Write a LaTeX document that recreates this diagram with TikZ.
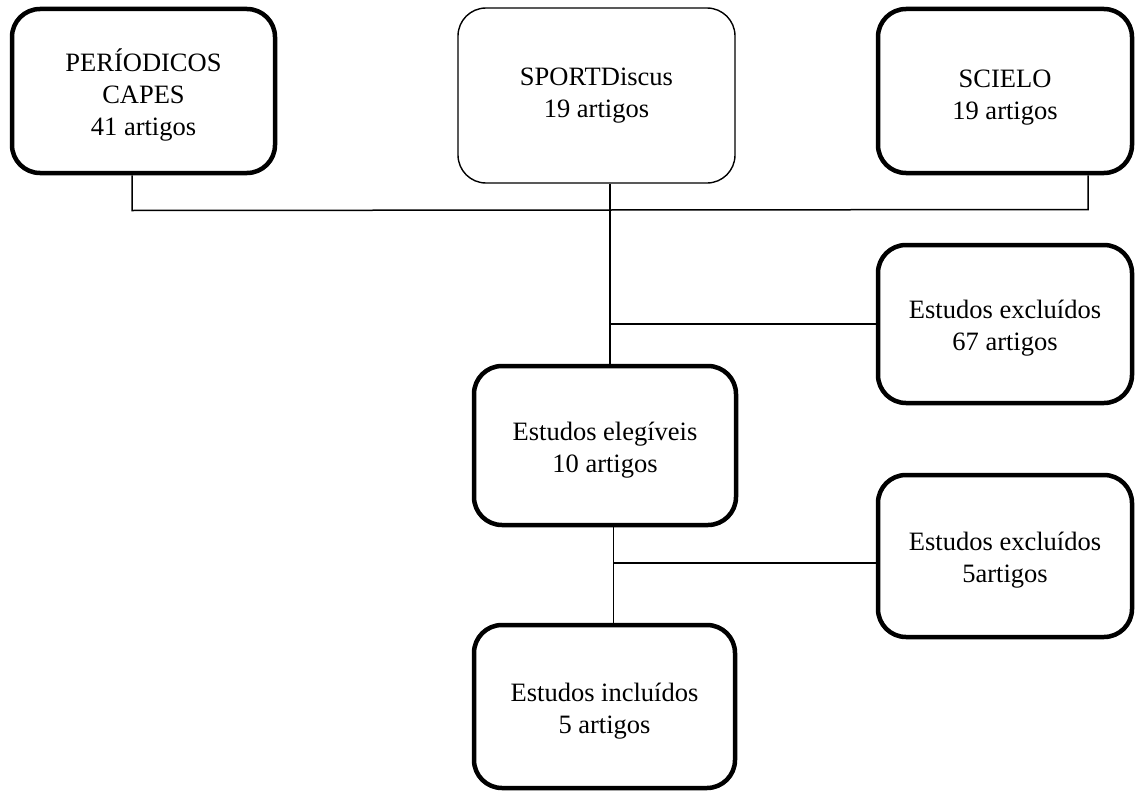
\documentclass[tikz,border=0pt]{standalone}
\usepackage{fontspec}
\setmainfont{Liberation Serif}
\begin{document}
\begin{tikzpicture}[x=1pt,y=-1pt,
  box/.style={draw=black, rounded corners=28pt, line width=4.5pt, align=center,
    inner sep=0pt, font=\fontsize{26.5}{32}\selectfont, text=black,
    text height=58pt, text depth=6pt},
  thinbox/.style={box, line width=1.4pt},
  conn/.style={draw=black, line width=1.5pt}]
\useasboundingbox (0,0) rectangle (1135,792);
\node[box, text height=95pt, minimum width=263pt, minimum height=164pt] (A) at (143.5,91) {PERÍODICOS\\CAPES\\41 artigos};
\node[thinbox, text height=50pt, minimum width=277pt, minimum height=175pt] (B) at (596.5,95.5) {SPORTDiscus\\19 artigos};
\node[box, text height=63pt, minimum width=254pt, minimum height=164pt] (C) at (1005,91) {SCIELO\\19 artigos};
\node[box, text height=59pt, minimum width=254pt, minimum height=158pt] (D) at (1005,324) {Estudos excluídos\\67 artigos};
\node[box, text height=59pt, minimum width=262pt, minimum height=159pt] (E) at (605,445.5) {Estudos elegíveis\\10 artigos};
\node[box, minimum width=254pt, minimum height=162pt] (F) at (1005,556) {Estudos excluídos\\5artigos};
\node[box, text height=59pt, minimum width=261pt, minimum height=163pt] (G) at (604.5,706.5) {Estudos incluídos\\5 artigos};
\coordinate (t1) at (132,210.5);
\coordinate (t2) at (1088,209.5);
\coordinate (v1) at (610,324);
\coordinate (v2) at (613.5,563);
\draw[conn] (A.south -| t1) -- (t1) -- (t2) -- (C.south -| t2);
\draw[conn] (B.south -| v1) -- (E.north -| v1);
\draw[conn] (v1) -- (D.west);
\draw[conn] (E.south -| v2) -- (G.north -| v2);
\draw[conn] (v2) -- (F.west |- v2);
\end{tikzpicture}
\end{document}
